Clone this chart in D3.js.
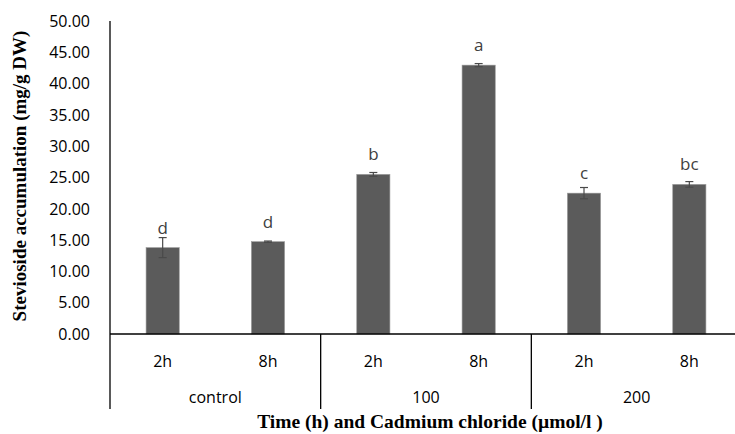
<!DOCTYPE html>
<html lang="en">
<head>
<meta charset="UTF-8">
<title>Stevioside accumulation</title>
<script src="https://cdn.jsdelivr.net/npm/d3@7"></script>
<style>
    body { margin: 0; background: #fff; }
    svg { font-family: "Open Sans", sans-serif; }
</style>
</head>
<body>
<div id="chart"></div>
<script>
// data
var groups = ['control', '100', '200'];
var times = ['2h', '8h'];
var values = [13.8, 14.75, 25.5, 42.95, 22.5, 23.9];
var errors = [1.6, 0.1, 0.3, 0.25, 0.9, 0.45];
var letters = ['d', 'd', 'b', 'a', 'c', 'bc'];
var yTicks = [0, 5, 10, 15, 20, 25, 30, 35, 40, 45, 50];

var W = 735, H = 434;
var plotLeft = 110, plotRight = 742, plotTop = 21, zeroY = 334;

var cats = [];
groups.forEach(function(g) { times.forEach(function(t) { cats.push(g + '|' + t); }); });

var svg = d3.select('#chart').append('svg')
    .attr('width', W).attr('height', H);

var x = d3.scaleBand().domain(cats).range([plotLeft, plotRight]).paddingInner(0.685).paddingOuter(0.3425);
var xg = d3.scaleBand().domain(groups).range([plotLeft, plotRight]);
var y = d3.scaleLinear().domain([0, 50]).range([zeroY, plotTop]);

// y axis labels
svg.append('g').selectAll('text')
    .data(yTicks).enter().append('text')
    .attr('x', 90).attr('y', d => y(d))
    .attr('dy', '0.36em')
    .attr('text-anchor', 'end')
    .attr('font-size', 16)
    .attr('fill', '#000')
    .text(d => d.toFixed(2));

// bars
svg.append('g').selectAll('rect')
    .data(values).enter().append('rect')
    .attr('x', (d, i) => x(cats[i]))
    .attr('y', d => y(d))
    .attr('width', x.bandwidth())
    .attr('height', d => zeroY - y(d))
    .attr('fill', '#5b5b5b')
    .attr('stroke', '#9a9a9a')
    .attr('stroke-width', 0.6);

// error bars
var eb = svg.append('g').attr('stroke', '#4a4a4a').attr('stroke-width', 1.2);
values.forEach(function(v, i) {
    var cx = x(cats[i]) + x.bandwidth() / 2;
    var y1 = y(v + errors[i]), y2 = y(v - errors[i]);
    eb.append('line').attr('x1', cx).attr('x2', cx).attr('y1', y1).attr('y2', y2);
    eb.append('line').attr('x1', cx - 4).attr('x2', cx + 4).attr('y1', y1).attr('y2', y1);
    eb.append('line').attr('x1', cx - 4).attr('x2', cx + 4).attr('y1', y2).attr('y2', y2);
});

// significance letters
svg.append('g').selectAll('text')
    .data(letters).enter().append('text')
    .attr('x', (d, i) => x(cats[i]) + x.bandwidth() / 2)
    .attr('y', (d, i) => y(values[i]) - 14)
    .attr('text-anchor', 'middle')
    .attr('font-size', 17)
    .attr('fill', '#404040')
    .text(d => d);

// axes lines
var ax = svg.append('g').attr('stroke', '#000').attr('stroke-width', 1.3);
ax.append('line').attr('x1', plotLeft).attr('x2', plotLeft).attr('y1', plotTop).attr('y2', 409);
ax.append('line').attr('x1', plotLeft).attr('x2', plotRight).attr('y1', zeroY).attr('y2', zeroY);
groups.slice(1).forEach(function(g) {
    ax.append('line').attr('x1', xg(g)).attr('x2', xg(g)).attr('y1', zeroY).attr('y2', 409);
});

// category labels
svg.append('g').selectAll('text')
    .data(cats).enter().append('text')
    .attr('x', d => x(d) + x.bandwidth() / 2)
    .attr('y', 361).attr('dy', '0.36em')
    .attr('text-anchor', 'middle')
    .attr('font-size', 16)
    .text(d => d.split('|')[1]);

svg.append('g').selectAll('text')
    .data(groups).enter().append('text')
    .attr('x', d => xg(d) + xg.bandwidth() / 2)
    .attr('y', 397).attr('dy', '0.36em')
    .attr('text-anchor', 'middle')
    .attr('font-size', 16)
    .text(d => d);

// axis titles
svg.append('text')
    .attr('x', 430).attr('y', 428)
    .attr('text-anchor', 'middle')
    .attr('font-family', '"Liberation Serif", serif')
    .attr('font-weight', 'bold')
    .attr('font-size', 19.5)
    .text('Time (h) and Cadmium chloride (\u00b5mol/l )');

svg.append('text')
    .attr('transform', 'translate(26,176) rotate(-90)')
    .attr('text-anchor', 'middle')
    .attr('font-family', '"Liberation Serif", serif')
    .attr('font-weight', 'bold')
    .attr('font-size', 19)
    .text('Stevioside accumulation (mg/g DW)');
</script>
</body>
</html>
